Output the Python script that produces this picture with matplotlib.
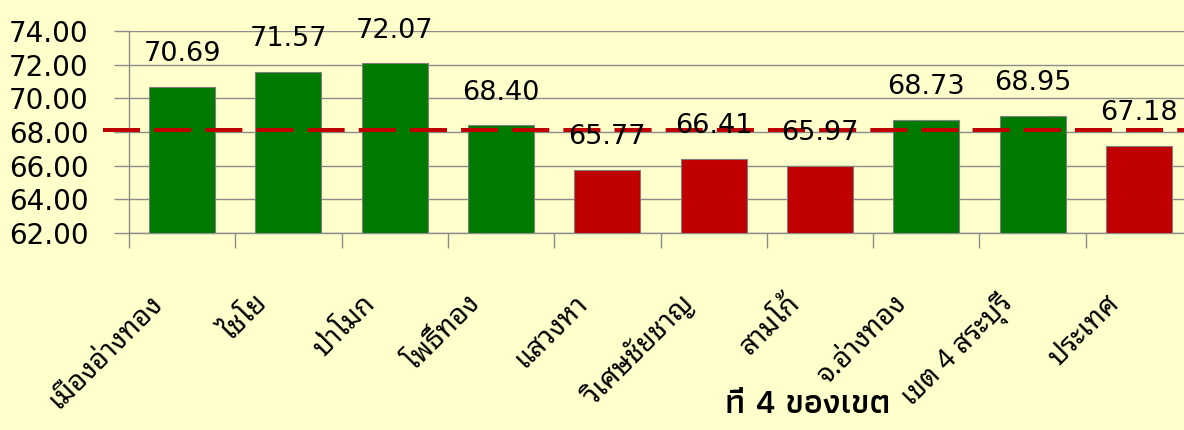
import matplotlib
matplotlib.use("Agg")
import matplotlib.pyplot as plt
import matplotlib.transforms as mtransforms
import numpy as np

# ข้อมูล
amphoe = ["เมืองอ่างทอง", "ไชโย", "ป่าโมก", "โพธิ์ทอง", "แสวงหา",
          "วิเศษชัยชาญ", "สามโก้", "จ.อ่างทอง", "เขต 4 สระบุรี", "ประเทศ"]
scores = [70.69, 71.57, 72.07, 68.40, 65.77, 66.41, 65.97, 68.73, 68.95, 67.18]
avg_line = 68.1
y_ticks = [62, 64, 66, 68, 70, 72, 74]
note_text = "ที่ 4 ของเขต"

bg = "#FFFFCC"
green = "#007A00"
red = "#C00000"
grey = "#8C8C8C"

fig = plt.figure(figsize=(11.84, 4.30), dpi=100, facecolor=bg)
ax = fig.add_axes([129/1184, 197/430, 1063/1184, 202/430], facecolor=bg)

x = np.arange(len(scores))
cols = [green if v >= avg_line else red for v in scores]
bars = ax.bar(x, [v - y_ticks[0] for v in scores], bottom=y_ticks[0], width=0.62,
              color=cols, edgecolor="#7F7F7F", linewidth=0.8, zorder=3)

# เส้นเฉลี่ย (เส้นประ)
ax.axhline(avg_line, xmin=-0.0245, xmax=1, color=red, lw=2.9,
           dashes=(9.2, 3.5), clip_on=False, zorder=4)

# ตัวเลขบนแท่ง
for xi, v in zip(x, scores):
    ax.annotate(f"{v:.2f}", (xi, v), xytext=(0, 18.5), textcoords="offset points",
                ha="center", va="baseline", fontsize=19.5, family="DejaVu Sans",
                color="black", zorder=5, annotation_clip=False)

ax.set_xlim(-0.5, len(scores) - 0.5)
ax.set_ylim(y_ticks[0], y_ticks[-1])
ax.set_yticks(y_ticks)
ax.set_yticklabels([f"{t:.2f}" for t in y_ticks], fontsize=20, family="DejaVu Sans")
ax.yaxis.grid(True, color=grey, lw=1.0, zorder=0)
ax.tick_params(axis="y", direction="out", length=11, width=1.0, color=grey, pad=18)

ax.set_xticks(x)
ax.set_xticklabels(amphoe, rotation=45, ha="right", va="center",
                   rotation_mode="anchor", fontsize=20,
                   family=["Noto Sans Thai Looped", "DejaVu Sans"])
ax.set_xticks(np.arange(-0.5, len(scores)), minor=True)
ax.tick_params(axis="x", which="major", length=0, pad=48)
ax.tick_params(axis="x", which="minor", direction="out", length=11, width=1.0, color=grey)
shift = mtransforms.ScaledTranslation(-24/100, 0, fig.dpi_scale_trans)
for lbl in ax.get_xticklabels():
    lbl.set_transform(lbl.get_transform() + shift)

for s in ["top", "right"]:
    ax.spines[s].set_visible(False)
for s in ["left", "bottom"]:
    ax.spines[s].set_color(grey)
    ax.spines[s].set_linewidth(1.0)

fig.text(725/1184, 1 - 413/430, note_text, ha="left", va="baseline",
         fontsize=25, fontweight="semibold",
         family=["Athiti", "Noto Sans Thai", "DejaVu Sans"], color="black")

fig.savefig("out.png", dpi=100, facecolor=bg)
